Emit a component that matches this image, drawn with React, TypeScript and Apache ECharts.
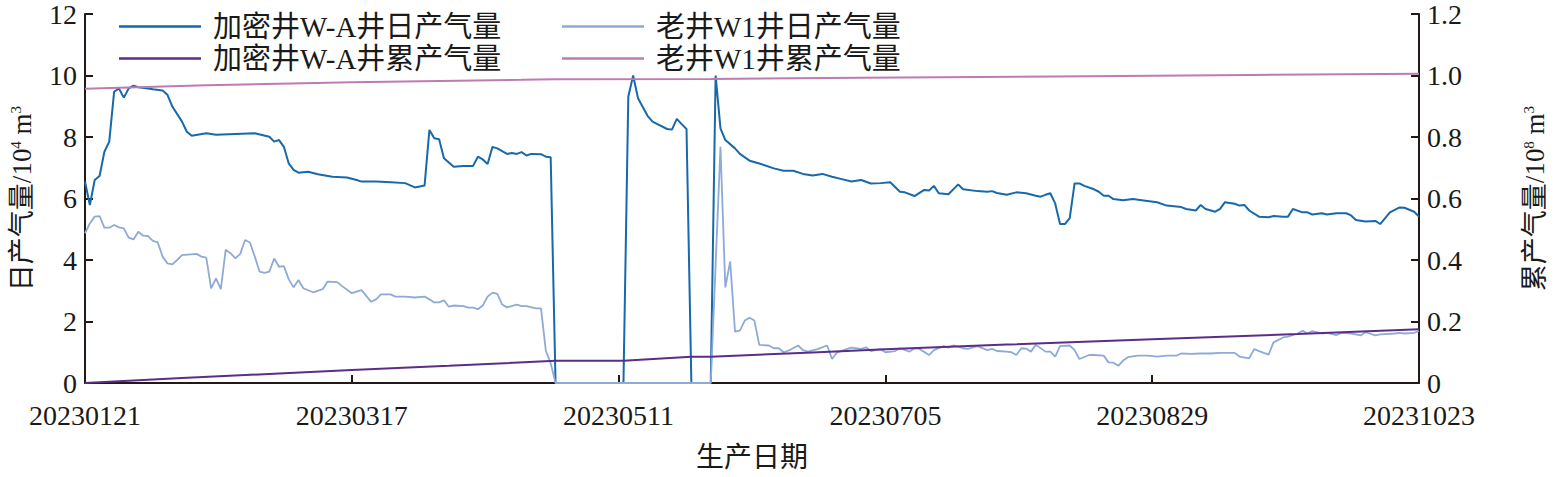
import React, { useEffect, useRef } from "react";
import * as echarts from "echarts";

// x positions are day indices counted from 2023-01-21 (0) to 2023-10-23 (275)
const tickLabels = ["20230121", "20230317", "20230511", "20230705", "20230829", "20231023"];
const seriesNames = ["加密井W-A井日产气量", "老井W1井日产气量", "加密井W-A井累产气量", "老井W1井累产气量"];

const waDailyDays = [0,1,2,3,4,5,6,7,8,9,10,11,13,14,16,17,18,20,21,22,25,27,31,35,38,39,40,41,42,43,44,46,48,51,54,56,57,60,63,66,68,70,71,72,73,74,76,78,80,81,82,83,84,85,87,88,89,90,91,92,94,95,96,97,111,112,113,114,116,117,118,120,121,122,123,124,125,129,130,131,132,134,135,137,139,142,144,146,148,150,152,154,156,158,160,162,164,166,168,169,171,173,174,175,176,178,180,181,184,186,187,188,190,192,194,196,197,198,199,200,201,202,203,204,205,206,208,209,210,211,212,214,216,219,221,223,226,227,229,230,231,233,234,235,237,238,239,240,242,244,245,247,248,249,251,252,253,255,256,258,260,261,262,264,266,267,269,271,272,274,275];
const waDailyVals = [6.55,5.79,6.6,6.73,7.52,7.85,9.47,9.58,9.28,9.58,9.67,9.62,9.58,9.55,9.51,9.37,8.99,8.5,8.17,8.04,8.12,8.07,8.1,8.12,8.01,7.85,7.9,7.68,7.14,6.93,6.84,6.87,6.79,6.71,6.68,6.6,6.55,6.55,6.53,6.5,6.36,6.42,8.23,7.96,7.93,7.31,7.03,7.06,7.06,7.36,7.27,7.12,7.68,7.63,7.45,7.48,7.45,7.51,7.4,7.45,7.44,7.36,7.34,0,0,9.31,10.0,9.26,8.68,8.5,8.42,8.26,8.24,8.59,8.42,8.26,0,0,10.0,8.28,7.9,7.63,7.45,7.23,7.14,6.98,6.9,6.9,6.8,6.75,6.8,6.71,6.63,6.55,6.6,6.49,6.5,6.53,6.22,6.2,6.08,6.28,6.26,6.41,6.17,6.14,6.46,6.3,6.24,6.22,6.24,6.18,6.12,6.2,6.17,6.09,6.06,6.12,6.17,5.84,5.17,5.17,5.36,6.49,6.49,6.41,6.3,6.22,6.09,6.09,5.98,5.94,5.98,5.92,5.88,5.77,5.72,5.66,5.61,5.79,5.66,5.57,5.66,5.88,5.83,5.77,5.79,5.61,5.41,5.39,5.43,5.41,5.41,5.66,5.55,5.55,5.48,5.52,5.48,5.52,5.52,5.45,5.3,5.25,5.27,5.17,5.55,5.71,5.7,5.57,5.41];

const w1DailyDays = [0,1,2,3,4,5,6,7,8,9,10,11,12,13,14,15,16,17,18,19,20,23,24,25,26,27,28,29,30,31,32,33,34,35,36,37,38,39,40,41,42,43,44,45,47,49,50,52,53,55,57,59,60,61,63,64,66,68,70,71,72,73,74,75,76,78,79,80,81,82,83,84,85,86,87,89,90,91,93,94,95,96,97,129,131,132,133,134,135,136,137,138,139,141,142,143,144,145,147,148,149,151,153,154,155,157,158,160,161,162,164,165,167,168,170,171,172,174,175,177,178,179,181,182,184,186,187,188,190,191,192,193,194,195,196,198,199,200,201,203,204,205,207,208,210,211,212,213,214,215,217,219,221,223,225,226,228,230,232,234,237,238,240,241,243,244,245,247,248,250,251,252,253,255,256,258,259,261,263,264,266,267,270,271,272,274,275];
const w1DailyVals = [4.87,5.19,5.41,5.43,5.05,5.05,5.14,5.06,5.03,4.73,4.67,4.92,4.79,4.78,4.62,4.57,4.11,3.89,3.86,4.0,4.16,4.2,4.11,4.08,3.08,3.4,3.05,4.33,4.22,4.05,4.2,4.65,4.57,4.11,3.62,3.58,3.62,4.05,3.78,3.8,3.37,3.11,3.35,3.08,2.95,3.05,3.3,3.28,3.15,2.92,3.02,2.64,2.72,2.88,2.88,2.81,2.81,2.78,2.81,2.72,2.62,2.62,2.69,2.48,2.52,2.5,2.45,2.45,2.4,2.52,2.81,2.94,2.9,2.55,2.46,2.55,2.5,2.5,2.43,2.43,1.05,0.64,0,0,7.68,3.11,3.95,1.67,1.7,2.03,2.12,2.03,1.24,1.22,1.13,1.13,1.0,1.05,1.22,1.07,1.02,1.1,1.22,0.78,0.99,1.1,1.15,1.11,1.16,1.04,1.1,1.0,1.04,1.13,1.02,1.13,1.11,0.91,1.07,1.2,1.15,1.22,1.13,1.11,1.2,1.07,1.11,1.04,1.02,1.0,0.91,1.13,1.12,1.02,1.24,1.02,1.02,0.86,1.2,1.22,1.07,0.78,0.91,0.91,0.89,0.67,0.66,0.56,0.73,0.84,0.89,0.89,0.86,0.89,0.89,0.96,0.95,0.96,0.96,0.98,0.98,0.86,0.8,1.1,0.98,0.92,1.32,1.48,1.51,1.61,1.7,1.61,1.69,1.61,1.63,1.56,1.63,1.61,1.55,1.65,1.55,1.58,1.61,1.63,1.61,1.63,1.69];

const waCumDays = [0,20,40,55,75,97,111,125,129,150,165,190,220,250,275];
const waCumVals = [0,0.016,0.031,0.042,0.056,0.072,0.0725,0.0855,0.0855,0.0995,0.1095,0.125,0.142,0.159,0.175];

const w1CumDays = [0,25,55,90,97,129,160,200,240,275];
const w1CumVals = [0.957,0.968,0.978,0.986,0.988,0.989,0.993,0.997,1.002,1.006];

const colors = ["#1769aa", "#8eaad6", "#5b2d88", "#c07ab3"];

const FONT = "'Liberation Serif', 'Times New Roman', 'Noto Sans CJK SC', serif";
const AXIS_COLOR = "#231815";

function pairs(days: number[], vals: number[]) {
  return days.map((d, i) => [d, vals[i]]);
}

export default function App() {
  const ref = useRef<HTMLDivElement>(null);
  useEffect(() => {
    if (!ref.current) return;
    document.body.style.margin = "0";
    document.body.style.overflow = "hidden";
    const chart = echarts.init(ref.current, undefined, { renderer: "svg" });
    const axisLine = { show: true, lineStyle: { color: AXIS_COLOR, width: 2 } };
    const axisTick = { show: true, inside: true, length: 8, lineStyle: { color: AXIS_COLOR, width: 2 } };
    const nameRich = {
      a: { fontSize: 27, fontFamily: FONT, color: "#1a1a1a" },
      s: { fontSize: 15, fontFamily: FONT, color: "#1a1a1a", verticalAlign: "top" },
    };
    const legendText = { fontSize: 29, fontFamily: FONT, color: "#1a1a1a", padding: [0, 0, 0, 7] };
    chart.setOption({
      animation: false,
      backgroundColor: "#ffffff",
      grid: { left: 80, right: 133, top: 14, bottom: 94, containLabel: false },
      legend: [
        {
          orient: "vertical", left: 114, top: 7, itemWidth: 82, itemHeight: 2.5, itemGap: 3,
          icon: "rect", data: [seriesNames[0], seriesNames[2]], textStyle: legendText,
        },
        {
          orient: "vertical", left: 557, top: 7, itemWidth: 82, itemHeight: 2.5, itemGap: 3,
          icon: "rect", data: [seriesNames[1], seriesNames[3]], textStyle: legendText,
        },
      ],
      xAxis: {
        type: "value", min: 0, max: 275, interval: 55,
        name: "生产日期", nameLocation: "middle", nameGap: 60,
        nameTextStyle: { fontSize: 28, fontFamily: FONT, color: "#1a1a1a" },
        axisLine, axisTick,
        splitLine: { show: false },
        axisLabel: {
          fontSize: 28, fontFamily: FONT, color: "#1a1a1a", margin: 18,
          formatter: (v: number) => tickLabels[Math.round(v / 55)] ?? "",
        },
      },
      yAxis: [
        {
          type: "value", min: 0, max: 12, interval: 2, position: "left",
          name: "{a|日产气量/10}{s|4}{a| m}{s|3}", nameLocation: "middle", nameRotate: 90, nameGap: 50,
          nameTextStyle: { rich: nameRich },
          axisLine, axisTick, splitLine: { show: false },
          axisLabel: { fontSize: 28, fontFamily: FONT, color: "#1a1a1a", margin: 8 },
        },
        {
          type: "value", min: 0, max: 1.2, interval: 0.2, position: "right",
          name: "{a|累产气量/10}{s|8}{a| m}{s|3}", nameLocation: "middle", nameRotate: 90, nameGap: 102,
          nameTextStyle: { rich: nameRich },
          axisLine, axisTick, splitLine: { show: false },
          axisLabel: {
            fontSize: 28, fontFamily: FONT, color: "#1a1a1a", margin: 8,
            formatter: (v: number) => (v === 0 ? "0" : v.toFixed(1)),
          },
        },
      ],
      series: [
        {
          name: seriesNames[0], type: "line", yAxisIndex: 0, symbol: "none", z: 2,
          data: pairs(waDailyDays, waDailyVals),
          lineStyle: { color: colors[0], width: 2 }, itemStyle: { color: colors[0] },
        },
        {
          name: seriesNames[1], type: "line", yAxisIndex: 0, symbol: "none", z: 3,
          data: pairs(w1DailyDays, w1DailyVals),
          lineStyle: { color: colors[1], width: 1.8 }, itemStyle: { color: colors[1] },
        },
        {
          name: seriesNames[2], type: "line", yAxisIndex: 1, symbol: "none", z: 4,
          data: pairs(waCumDays, waCumVals),
          lineStyle: { color: colors[2], width: 2 }, itemStyle: { color: colors[2] },
        },
        {
          name: seriesNames[3], type: "line", yAxisIndex: 1, symbol: "none", z: 4,
          data: pairs(w1CumDays, w1CumVals),
          lineStyle: { color: colors[3], width: 2 }, itemStyle: { color: colors[3] },
        },
      ],
    });
    return () => chart.dispose();
  }, []);
  return (
    <div
      ref={ref}
      style={{ position: "fixed", left: 0, top: 0, width: 1556, height: 477, background: "#fff" }}
    />
  );
}
